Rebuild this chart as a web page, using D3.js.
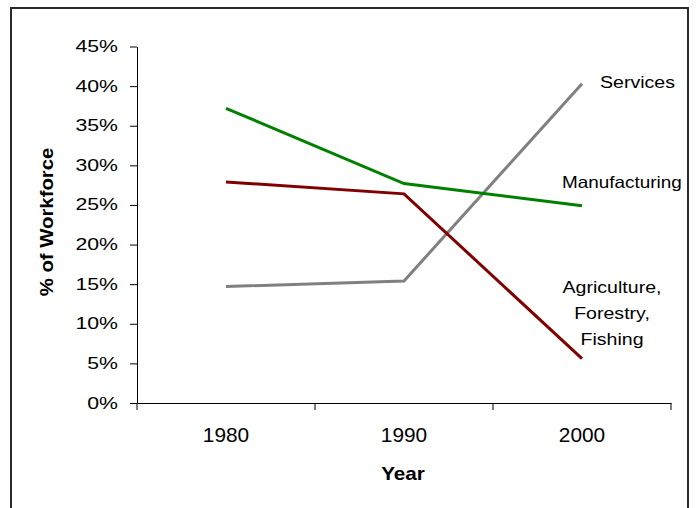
<!DOCTYPE html>
<html>
<head>
<meta charset="utf-8">
<script src="https://cdn.jsdelivr.net/npm/d3@7"></script>
<style>
  html, body { margin: 0; padding: 0; background: #fff; }
  svg { display: block; font-family: Arial, "Liberation Sans", sans-serif; }
</style>
</head>
<body>
<svg id="chart" width="696" height="508"></svg>
<script>
// Share of the workforce by sector
const years = ["1980", "1990", "2000"];
const services = [0.147, 0.154, 0.403];
const manufacturing = [0.372, 0.277, 0.249];
const agriculture = [0.279, 0.264, 0.056];
const yTicks = [0, 0.05, 0.10, 0.15, 0.20, 0.25, 0.30, 0.35, 0.40, 0.45];

const series = [
  { name: "Services", values: services, color: "#808080" },
  { name: "Manufacturing", values: manufacturing, color: "#008000" },
  { name: "Agriculture", values: agriculture, color: "#800000" }
];

const svg = d3.select("#chart");

// outer frame
svg.append("rect")
  .attr("x", 11).attr("y", 8)
  .attr("width", 677).attr("height", 530)
  .attr("fill", "none").attr("stroke", "#2a2a2a").attr("stroke-width", 2);

const x = d3.scaleBand().domain(years).range([137, 671]).padding(0);
const y = d3.scaleLinear().domain([0, 0.45]).range([403, 46.5]);

// helper: horizontally widened text
function label(g, txt, px, py, size, sx, anchor, weight) {
  return g.append("text")
    .attr("transform", `translate(${px},${py}) scale(${sx},1)`)
    .attr("text-anchor", anchor || "start")
    .attr("font-size", size)
    .attr("font-weight", weight || "normal")
    .attr("fill", "#000")
    .text(txt);
}

// y axis
const yAxis = svg.append("g")
  .attr("transform", `translate(${x.range()[0]},0)`)
  .call(d3.axisLeft(y).tickValues(yTicks).tickSize(7).tickSizeOuter(0).tickFormat(""));
yAxis.select(".domain").attr("stroke", "#000");
yAxis.selectAll(".tick line").attr("stroke", "#000");

const yLab = svg.append("g");
yTicks.forEach(t => {
  label(yLab, d3.format(".0%")(t), 118, y(t) + 5.5, 17, 1.25, "end");
});

// x axis with boundary ticks between categories
const xAxis = svg.append("g")
  .attr("transform", `translate(0,${y(0)})`)
  .call(d3.axisBottom(x).tickSize(0).tickSizeOuter(0).tickFormat(""));
xAxis.select(".domain").attr("stroke", "#000");
const edges = years.map(d => x(d)).concat([x.range()[1]]);
svg.append("g").selectAll("line").data(edges).join("line")
  .attr("x1", d => d).attr("x2", d => d)
  .attr("y1", y(0)).attr("y2", y(0) + 7)
  .attr("stroke", "#000");

const xLab = svg.append("g");
years.forEach(yr => {
  label(xLab, yr, x(yr) + x.bandwidth() / 2, 442, 19.5, 1.07, "middle");
});

// axis titles
label(svg, "Year", 403, 480, 18, 1.15, "middle", "bold");
svg.append("text")
  .attr("transform", "translate(53,222) rotate(-90) scale(1.13,1)")
  .attr("text-anchor", "middle")
  .attr("font-size", 18)
  .attr("font-weight", "bold")
  .text("% of Workforce");

// series lines
const line = d3.line()
  .x((d, i) => x(years[i]) + x.bandwidth() / 2)
  .y(d => y(d));

svg.append("g").selectAll("path").data(series).join("path")
  .attr("d", d => line(d.values))
  .attr("fill", "none")
  .attr("stroke", d => d.color)
  .attr("stroke-width", 3)
  .attr("stroke-linejoin", "miter");

// series labels
const sLab = svg.append("g");
label(sLab, "Services", 600, 88, 16.3, 1.2, "start");
label(sLab, "Manufacturing", 562, 188, 16.3, 1.16, "start");
label(sLab, "Agriculture,", 612, 293, 16.3, 1.2, "middle");
label(sLab, "Forestry,", 612, 319, 16.3, 1.2, "middle");
label(sLab, "Fishing", 612, 345, 16.3, 1.2, "middle");
</script>
</body>
</html>
